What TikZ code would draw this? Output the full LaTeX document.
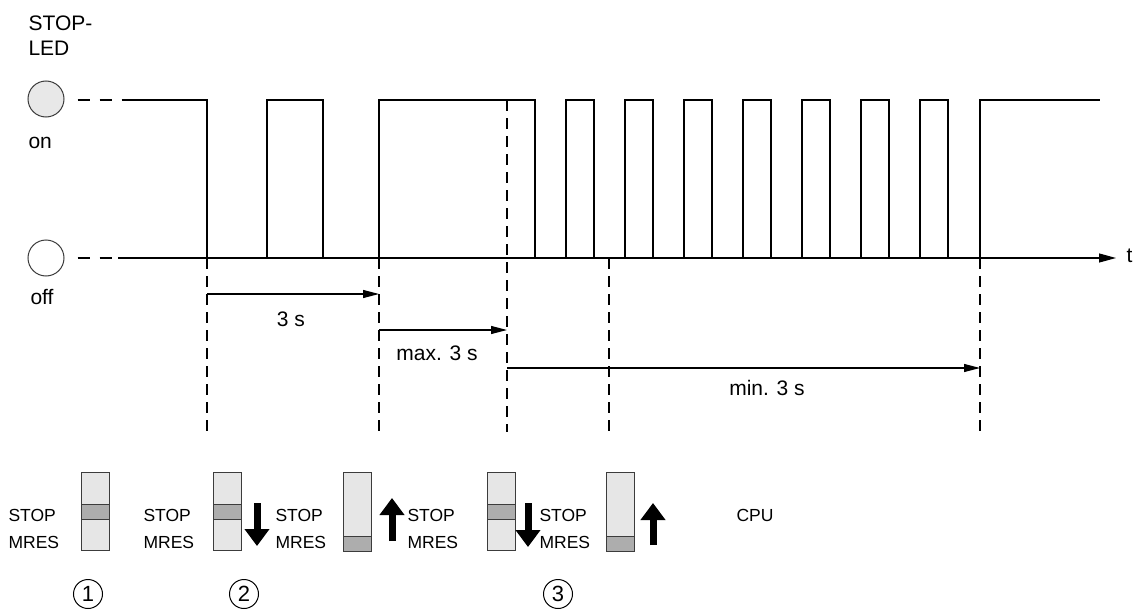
\documentclass[tikz,border=0pt]{standalone}
\usepackage{fontspec}
\setmainfont{Liberation Sans}
\usetikzlibrary{arrows.meta}
\definecolor{ledcol}{HTML}{E8E8E8}
\definecolor{swfill}{HTML}{E6E6E6}
\definecolor{slidecol}{HTML}{ADADAD}
\definecolor{edgecol}{HTML}{3C3C3C}
\tikzset{
  guide/.style={line width=1.1pt, dash pattern=on 11pt off 7pt},
  leddash/.style={line width=1.1pt, dash pattern=on 12pt off 10pt},
  led/.style={circle, draw=edgecol, line width=1pt, minimum size=36pt, inner sep=0pt},
  timearrow/.style={-{Triangle[length=16pt,width=8pt]}, line width=1.1pt},
  bigarrow/.style={-{Triangle[length=17pt,width=24pt]}, line width=7pt},
  numcirc/.style={circle, draw, line width=1pt, minimum size=29pt, inner sep=0pt, font=\fontsize{22}{22}\selectfont},
  lbl/.style={anchor=west, inner sep=0pt},
  swlbl/.style={lbl, font=\fontsize{17.5}{20}\selectfont}
}
\begin{document}
\begin{tikzpicture}[x=1pt, y=-1pt, line width=1.1pt,
  font=\fontsize{21}{25}\selectfont]
\useasboundingbox (0,0) rectangle (1136,610);

% LED states
\node[lbl, align=left] (ledtxt) at (28,36) {STOP-\\LED};
\node[led, fill=ledcol] (ledon) at (46,99) {};
\node[led, fill=white] (ledoff) at (46,258) {};
\node[lbl] (ontxt) at (28,143) {on};
\node[lbl] (offtxt) at (30,297) {off};
\coordinate (hi0) at (133,100);
\coordinate (lo0) at (118,258);
\draw[leddash] (ledon.east) ++(13,1) -- (hi0);
\draw[leddash] (ledoff.east) ++(13,0) -- (lo0);

% time axis
\coordinate (tend) at (1116,258);
\draw[-{Triangle[length=17pt,width=9pt]}] (lo0) -- (tend);
\node[lbl] (tlbl) at (1126,256) {t};

% signal
\draw (hi0) -- (207,100) -- (207,258)
  (267,258) -- (267,100) -- (323,100) -- (323,258)
  (379,258) -- (379,100) -- (535,100) -- (535,258);
\foreach \i in {0,...,6}
  \draw (566+59*\i,258) -- (566+59*\i,100) -- (594+59*\i,100) -- (594+59*\i,258);
\draw (980,258) -- (980,100) -- (1100,100);

% events
\coordinate (e1) at (207,258);
\coordinate (e2) at (379,258);
\coordinate (e3) at (507,100);
\coordinate (e4) at (609,258);
\coordinate (e5) at (980,258);
\foreach \e in {e1,e2,e4,e5}
  \draw[guide] (\e) -- ++(0,174);
\draw[guide] (e3) -- ++(0,332);

\draw[timearrow] ([yshift=-36pt]e1) -- ([yshift=-36pt]e2);
\node (t1) at (291,319) {3 s};
\draw[timearrow] ([yshift=-72pt]e2) -- ([yshift=-230pt]e3);
\node (t2) at (437,353) {max. 3 s};
\draw[timearrow] ([yshift=-268pt]e3) -- ([yshift=-110pt]e5);
\node (t3) at (767,388) {min. 3 s};

% mode switch
\foreach \x in {8,143,275,407,539} {
  \node[swlbl] at (\x,515) {STOP};
  \node[swlbl] at (\x,542) {MRES};
}
\foreach \x/\sy in {81/504, 213/504, 343/536, 487/504, 606/536} {
  \draw[edgecol, line width=1pt, fill=swfill] (\x,472) rectangle ++(28,78);
  \draw[edgecol, line width=1pt, fill=slidecol] (\x,\sy) rectangle ++(28,15);
}
\draw[bigarrow] (257,503) -- (257,546);
\draw[bigarrow] (392,541) -- (392,498);
\draw[bigarrow] (528,503) -- (528,547);
\draw[bigarrow] (653,545) -- (653,503);
\node[swlbl] (cpu) at (736,515) {CPU};

\node[numcirc] (n1) at (88,594) {1};
\node[numcirc] (n2) at (244,594) {2};
\node[numcirc] (n3) at (558,594) {3};
\end{tikzpicture}
\end{document}
